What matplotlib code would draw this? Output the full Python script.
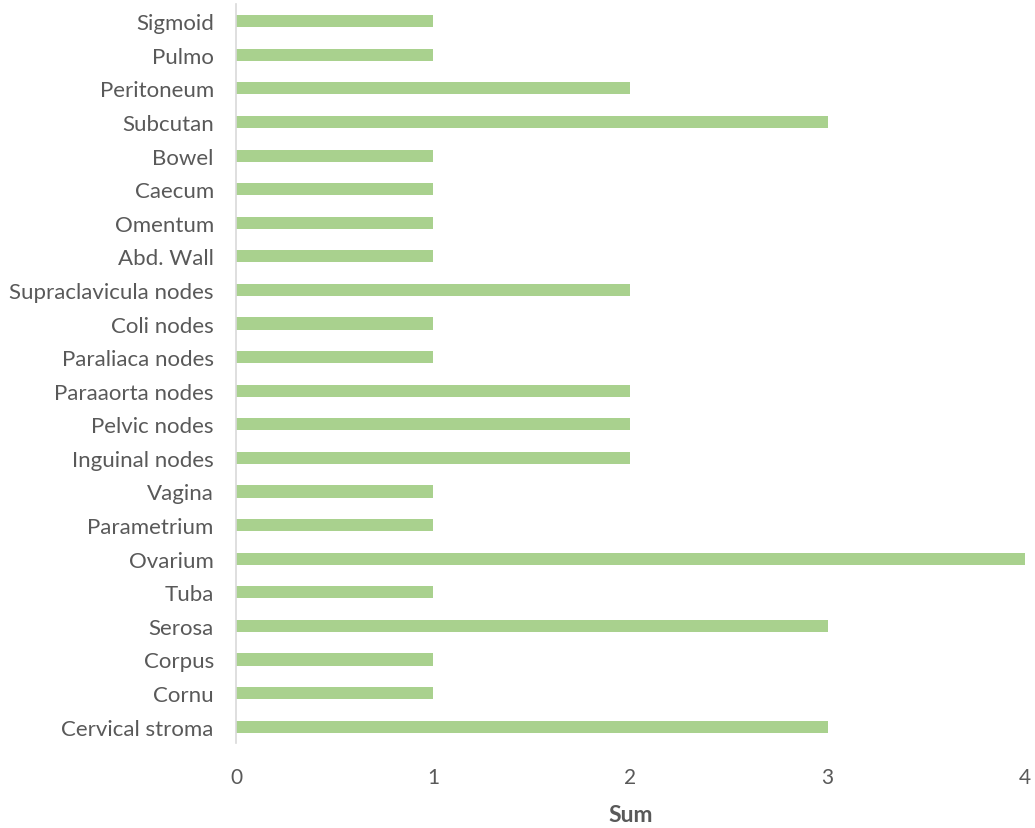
import matplotlib
matplotlib.use("Agg")
import matplotlib.pyplot as plt

sites = [
    "Cervical stroma", "Cornu", "Corpus", "Serosa", "Tuba", "Ovarium",
    "Parametrium", "Vagina", "Inguinal nodes", "Pelvic nodes", "Paraaorta nodes",
    "Paraliaca nodes", "Coli nodes", "Supraclavicula nodes", "Abd. Wall",
    "Omentum", "Caecum", "Bowel", "Subcutan", "Peritoneum", "Pulmo", "Sigmoid",
]
counts = [3, 1, 1, 3, 1, 4, 1, 1, 2, 2, 2, 1, 1, 2, 1, 1, 1, 1, 3, 2, 1, 1]
x_ticks = [0, 1, 2, 3, 4]

plt.rcParams["font.family"] = ["Lato", "DejaVu Sans"]
text_color = "#595959"

fig = plt.figure(figsize=(10.35, 8.29), dpi=100)
ax = fig.add_axes([0.228, 0.1020, 0.7623, 0.8915])

ax.barh(range(len(sites)), counts, height=0.36, color="#A9D18E")

ax.set_xlim(0, 4)
ax.set_ylim(-0.5, len(sites) - 0.5)
ax.set_xticks(x_ticks)
ax.set_xticklabels([str(t) for t in x_ticks])
ax.set_yticks(range(len(sites)))
ax.set_yticklabels(sites)

for side in ["top", "right", "bottom"]:
    ax.spines[side].set_visible(False)
ax.spines["left"].set_color("#D9D9D9")
ax.spines["left"].set_linewidth(1.2)

ax.tick_params(axis="y", length=0, pad=16, labelsize=16, labelcolor=text_color)
ax.tick_params(axis="x", length=0, pad=17, labelsize=15, labelcolor=text_color)

ax.set_xlabel("Sum", fontsize=16.5, fontweight="bold", color=text_color, labelpad=12)

fig.savefig("out.png", dpi=100)
